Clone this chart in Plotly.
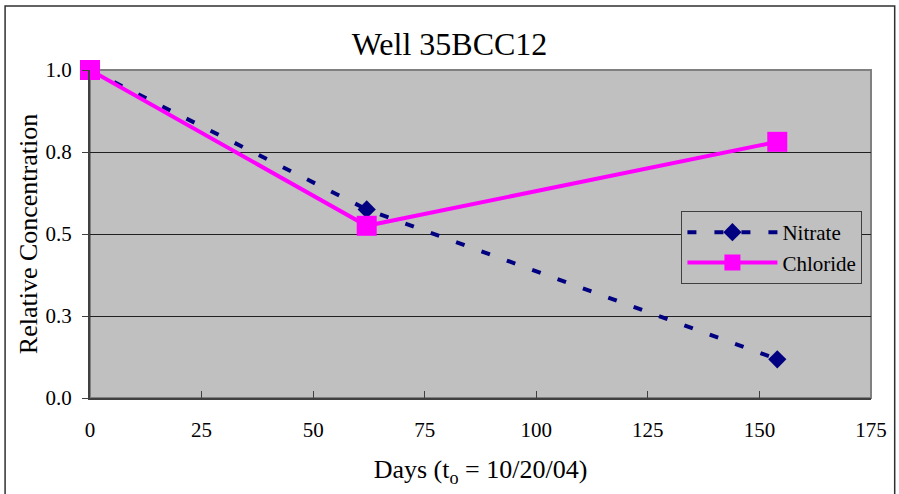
import plotly.graph_objects as go

# Sampling days since t0 = 10/20/04
days = [0, 62, 154]
nitrate = [1.0, 0.575, 0.118]
chloride = [1.0, 0.525, 0.781]

y_tickvals = [0.0, 0.25, 0.5, 0.75, 1.0]
y_ticktext = ["0.0", "0.3", "0.5", "0.8", "1.0"]
x_tickvals = [0, 25, 50, 75, 100, 125, 150, 175]

FONT = "Liberation Serif, Times New Roman, serif"

fig = go.Figure()
fig.add_trace(go.Scatter(
    x=days, y=nitrate, name="Nitrate", mode="lines+markers",
    line=dict(color="#000080", width=4, dash="9px,18px"),
    marker=dict(symbol="diamond", size=14, color="#000080"),
    cliponaxis=False,
))
fig.add_trace(go.Scatter(
    x=days, y=chloride, name="Chloride", mode="lines+markers",
    line=dict(color="#FF00FF", width=4),
    marker=dict(symbol="square", size=20, color="#FF00FF"),
    cliponaxis=False,
))

W, H = 899, 494
L, R, T, B = 90, 18, 70, 96
pw, ph = W - L - R, H - T - B

def px_x(p):
    return (p - L) / pw

def px_y(p):
    return (H - B - p) / ph

fig.update_layout(
    width=W, height=H,
    margin=dict(l=L, r=R, t=T, b=B),
    paper_bgcolor="white",
    plot_bgcolor="#C0C0C0",
    font=dict(family=FONT, size=21, color="black"),
    title=dict(text="Well 35BCC12", x=0.5, xanchor="center",
               y=1 - 44 / H, yanchor="middle",
               font=dict(family=FONT, size=32, color="black")),
    showlegend=True,
    legend=dict(x=px_x(689), y=px_y(211), xanchor="left", yanchor="top",
                bgcolor="#C0C0C0", bordercolor="#404040", borderwidth=1,
                font=dict(family=FONT, size=21, color="black"),
                tracegroupgap=0, itemwidth=90),
    xaxis=dict(
        range=[0, 175], tickvals=x_tickvals,
        showgrid=False, zeroline=False,
        showline=True, linecolor="#404040", linewidth=2, mirror=False,
        ticks="inside", ticklen=7, tickcolor="#404040",
        ticklabelstandoff=12,
        tickfont=dict(family=FONT, size=21),
        title=dict(text="Days (t<sub>o</sub> = 10/20/04)",
                   font=dict(family=FONT, size=26), standoff=19),
    ),
    yaxis=dict(
        range=[0, 1.0], tickvals=y_tickvals, ticktext=y_ticktext,
        showgrid=True, gridcolor="#202020", gridwidth=1, zeroline=False,
        showline=True, linecolor="#404040", linewidth=2, mirror=False,
        ticks="outside", ticklen=6, tickcolor="#404040",
        ticklabelstandoff=6,
        tickfont=dict(family=FONT, size=21),
        title=dict(text="Relative Concentration",
                   font=dict(family=FONT, size=26), standoff=0),
    ),
    shapes=[
        # gray border round the plot area
        dict(type="rect", xref="paper", yref="paper", x0=0, x1=1, y0=0, y1=1,
             line=dict(color="#808080", width=2), layer="below"),
        # outer chart frame
        dict(type="rect", xref="paper", yref="paper",
             x0=px_x(4), x1=px_x(905), y0=px_y(505), y1=px_y(6),
             line=dict(color="#303030", width=1.5)),
    ],
)

fig.write_html("out.html")
